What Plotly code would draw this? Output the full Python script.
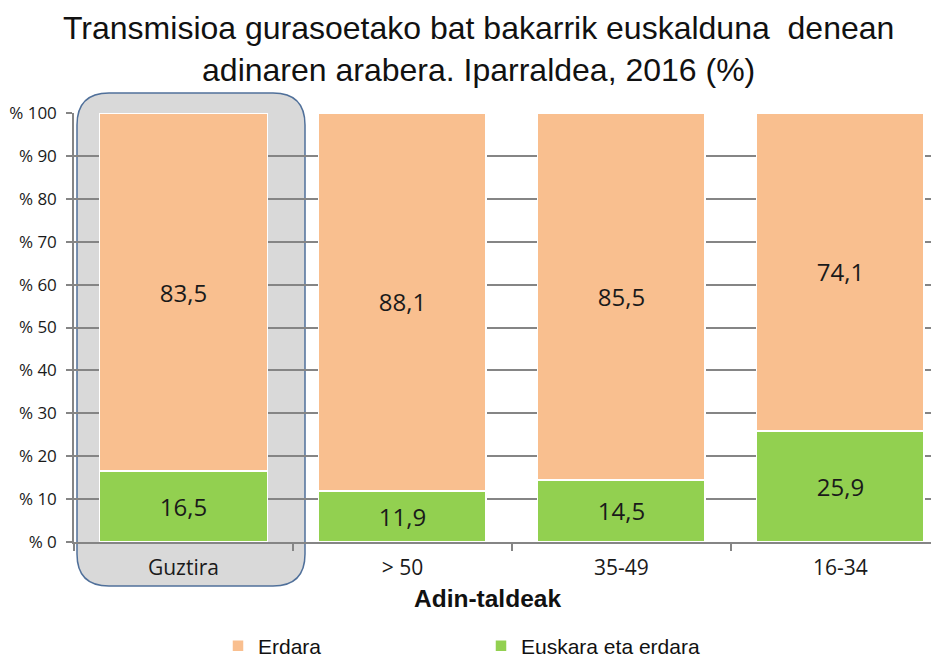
import plotly.graph_objects as go

categories = ["Guztira", "> 50", "35-49", "16-34"]
euskara_eta_erdara = [16.5, 11.9, 14.5, 25.9]
erdara = [83.5, 88.1, 85.5, 74.1]
y_ticks = [0, 10, 20, 30, 40, 50, 60, 70, 80, 90, 100]
y_tick_labels = ["% " + str(v) for v in y_ticks]

# page body has an 8px margin; size the figure to fill the 939x660 window
OFF = 8
W, H = 939 - OFF, 660 - OFF
# plot area in window pixels: x 74..939, y 113..542
PL, PR, PT, PB = 74, 939, 113, 542
L, R, T, B = PL - OFF, (939 - PR), PT - OFF, 660 - PB
PW, PH = PR - PL, PB - PT


def px2x(px):
    return (px - PL) / PW


def px2y(py):
    return (PB - py) / PH


ORANGE = "#F9BF8F"
GREEN = "#92D050"
GRID = "#858585"
TXT = "#1a1a1a"
LABEL_FONT = "Open Sans"

fig = go.Figure()
fig.add_trace(go.Bar(
    x=categories, y=euskara_eta_erdara, name="Euskara eta erdara",
    marker=dict(color=GREEN, line=dict(color="white", width=1.5)),
    width=0.765, texttemplate="%{y:.1f}", textposition="inside",
    insidetextanchor="middle", constraintext="none",
    textfont=dict(family=LABEL_FONT, size=24, color=TXT),
    legendrank=2,
))
fig.add_trace(go.Bar(
    x=categories, y=erdara, name="Erdara",
    marker=dict(color=ORANGE, line=dict(color="white", width=1.5)),
    width=0.765, texttemplate="%{y:.1f}", textposition="inside",
    insidetextanchor="middle", constraintext="none",
    textfont=dict(family=LABEL_FONT, size=24, color=TXT),
    legendrank=1,
))

# rounded callout behind first category (window pixels)
x0, x1, y0, y1, r = 77, 305, 93, 586, 32
rx, ry = r / PW, r / PH
X0, X1, Y0, Y1 = px2x(x0), px2x(x1), px2y(y1), px2y(y0)
path = (f"M {X0+rx},{Y1} L {X1-rx},{Y1} Q {X1},{Y1} {X1},{Y1-ry} "
        f"L {X1},{Y0+ry} Q {X1},{Y0} {X1-rx},{Y0} L {X0+rx},{Y0} "
        f"Q {X0},{Y0} {X0},{Y0+ry} L {X0},{Y1-ry} Q {X0},{Y1} {X0+rx},{Y1} Z")
fig.add_shape(type="path", path=path, xref="paper", yref="paper",
              fillcolor="#D9D9D9", line=dict(color="#50709A", width=1.5),
              layer="below")

fig.add_annotation(text="Transmisioa gurasoetako bat bakarrik euskalduna\u00a0 denean<br>adinaren arabera. Iparraldea, 2016 (%)",
                   xref="paper", yref="paper", x=px2x(478), y=px2y(8),
                   xanchor="center", yanchor="top", showarrow=False,
                   font=dict(family="Liberation Sans", size=32, color="#111"))

fig.add_annotation(text="<b>Adin-taldeak</b>", xref="paper", yref="paper",
                   x=px2x(487), y=px2y(598), xanchor="center", yanchor="middle",
                   showarrow=False,
                   font=dict(family="Liberation Sans", size=24.5, color="#111"))

fig.update_layout(
    width=W, height=H,
    margin=dict(l=L, r=R, t=T, b=B, autoexpand=False),
    paper_bgcolor="white", plot_bgcolor="rgba(0,0,0,0)",
    barmode="stack", separators=",.",
    showlegend=True,
    legend=dict(orientation="h", x=px2x(218), y=px2y(646), xanchor="left", yanchor="middle",
                entrywidth=218, entrywidthmode="pixels", traceorder="normal",
                font=dict(family="Liberation Sans", size=21, color="#111"),
                bgcolor="rgba(0,0,0,0)"),
    xaxis=dict(type="category", range=[-0.5, 3.45], tickson="boundaries", ticks="outside",
               ticklen=7, tickcolor=GRID, tickwidth=1.5, showline=True, linecolor=GRID, linewidth=1.5,
               showgrid=False, automargin=False, ticklabelstandoff=6,
               tickfont=dict(family=LABEL_FONT, size=21, color=TXT)),
    yaxis=dict(range=[0, 100], tickvals=y_ticks, ticktext=y_tick_labels, ticks="outside",
               ticklen=6, tickcolor=GRID, tickwidth=1.5, showline=True, linecolor=GRID, linewidth=1.5,
               showgrid=True, gridcolor=GRID, gridwidth=1.5, zeroline=False, automargin=False,
               ticklabelstandoff=6,
               tickfont=dict(family=LABEL_FONT, size=17, color=TXT)),
)

fig.write_html("out.html")
